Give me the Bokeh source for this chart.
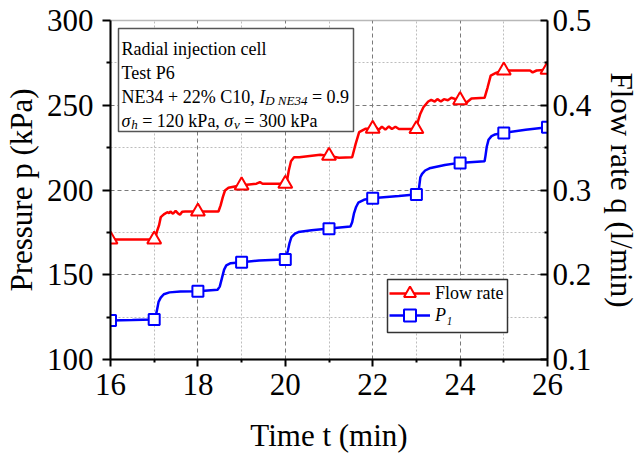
import math
from bokeh.plotting import figure
from bokeh.models import (Range1d, LinearAxis, FixedTicker, Label, BoxAnnotation,
                          Legend, LegendItem)
from bokeh.embed import file_html
from bokeh.resources import INLINE

# ---------------- data ----------------
t_p1 = [16.00, 16.50, 16.98, 17.03, 17.07, 17.10, 17.15, 17.22, 17.35, 17.60, 18.00,
        18.45, 18.50, 18.55, 18.60, 18.65, 18.75, 19.00, 19.40, 19.95, 20.02, 20.06,
        20.10, 20.14, 20.22, 20.30, 20.60, 20.95, 21.49, 21.53, 21.57, 21.62, 21.67,
        21.80, 21.97, 22.60, 22.97, 23.05, 23.09, 23.13, 23.20, 23.30, 23.65, 23.97,
        24.56, 24.58, 24.61, 24.65, 24.72, 24.80, 24.97, 25.50, 26.00]
p1 = [123.0, 123.3, 123.6, 125.0, 130.0, 134.0, 136.5, 138.5, 139.6, 140.1, 140.3,
      141.2, 143.0, 148.0, 153.0, 155.5, 156.8, 157.4, 158.4, 159.0, 160.5, 164.3,
      169.0, 172.2, 174.3, 175.2, 176.3, 177.1, 178.5, 181.0, 186.0, 190.0, 192.5,
      194.2, 195.2, 196.5, 197.3, 199.0, 207.5, 209.5, 211.5, 212.8, 214.8, 216.0,
      217.0, 220.0, 225.5, 229.6, 231.8, 232.8, 233.7, 235.5, 237.0]

t_q = [16.00, 16.85, 17.00, 17.03, 17.07, 17.11, 17.15, 17.22, 17.30, 17.34, 17.37,
       17.43, 17.49, 17.54, 17.59, 17.64, 17.71, 18.00, 18.47, 18.52, 18.57, 18.62,
       18.70, 18.96, 19.34, 19.42, 19.48, 20.00, 20.04, 20.08, 20.13, 20.20, 20.32,
       20.80, 21.00, 21.23, 21.53, 21.61, 21.69, 21.83, 21.97, 22.06, 22.14, 22.21,
       22.29, 22.37, 22.44, 22.52, 22.60, 22.97, 23.03, 23.09, 23.16, 23.27, 23.34,
       23.42, 23.48, 23.56, 23.63, 23.72, 23.80, 23.97, 24.06, 24.15, 24.26, 24.56,
       24.63, 24.70, 24.82, 24.97, 25.60, 25.66, 25.75, 26.00]
q_flow = [0.2416, 0.2416, 0.2416, 0.2444, 0.2522, 0.2582, 0.2680, 0.2712, 0.2738, 0.2726,
          0.2746, 0.2720, 0.2754, 0.2726, 0.2708, 0.2744, 0.2746, 0.2746, 0.2746, 0.2818,
          0.2916, 0.2994, 0.3026, 0.3054, 0.3074, 0.3092, 0.3074, 0.3074, 0.3112, 0.3230,
          0.3340, 0.3386, 0.3386, 0.3416, 0.3400, 0.3380, 0.3386, 0.3544, 0.3682, 0.3722,
          0.3722, 0.3748, 0.3710, 0.3748, 0.3712, 0.3750, 0.3720, 0.3746, 0.3720, 0.3720,
          0.3800, 0.3900, 0.3976, 0.4044, 0.4064, 0.4044, 0.4072, 0.4044, 0.4072, 0.4060,
          0.4088, 0.4060, 0.4066, 0.4032, 0.4080, 0.4088, 0.4212, 0.4350, 0.4382, 0.4410,
          0.4410, 0.4388, 0.4410, 0.4418]

t_marks = [16, 17, 18, 19, 20, 21, 22, 23, 24, 25, 26]
p1_marks = [123.0, 123.6, 140.3, 157.4, 159.0, 177.1, 195.2, 197.3, 216.0, 233.7, 237.0]
q_marks = [0.2416, 0.2416, 0.2746, 0.3054, 0.3074, 0.3404, 0.3722, 0.3720, 0.4060, 0.4410, 0.4418]

x_ticks = [16, 18, 20, 22, 24, 26]
x_minor = [17, 19, 21, 23, 25]
p_ticks = [100, 150, 200, 250, 300]
p_minor = [125, 175, 225, 275]
q_ticks = [0.1, 0.2, 0.3, 0.4, 0.5]
q_minor = [0.15, 0.25, 0.35, 0.45]

x_title = "Time t (min)"
p_title = "Pressure p (kPa)"
q_title = "Flow rate q (l/min)"

# ---------------- figure ----------------
W, H = 642, 463
FL, FT, FR, FB = 110, 20, 92, 104
FONT = "Liberation Serif"
TICK_SIZE = 31
TITLE_SIZE = 31

p = figure(width=W, height=H, output_backend="svg", toolbar_location=None,
           x_range=Range1d(16, 26), y_range=Range1d(100, 300),
           min_border_left=FL, min_border_right=FR, min_border_top=FT,
           min_border_bottom=FB, background_fill_color="white",
           border_fill_color="white")
p.extra_y_ranges = {"q": Range1d(0.1, 0.5)}
p.outline_line_color = "#b8b8b8"
p.outline_line_width = 1.5

xt = FixedTicker(ticks=x_ticks, minor_ticks=x_minor)
pt = FixedTicker(ticks=p_ticks, minor_ticks=p_minor)
qt = FixedTicker(ticks=q_ticks, minor_ticks=q_minor)

def style_axis(ax, tin, tout, standoff, title, title_standoff):
    ax.axis_line_color = "black"
    ax.axis_line_width = 2
    ax.major_tick_line_color = "black"
    ax.major_tick_line_width = 2
    ax.minor_tick_line_color = "black"
    ax.minor_tick_line_width = 2
    ax.major_tick_in = tin
    ax.major_tick_out = tout
    ax.minor_tick_in = int(tin * 0.55)
    ax.minor_tick_out = int(tout * 0.55)
    ax.major_label_standoff = standoff
    ax.major_label_text_font = FONT
    ax.major_label_text_font_size = f"{TICK_SIZE}px"
    ax.major_label_text_color = "black"
    ax.axis_label = title
    ax.axis_label_standoff = title_standoff
    ax.axis_label_text_font = FONT
    ax.axis_label_text_font_size = f"{TITLE_SIZE}px"
    ax.axis_label_text_font_style = "normal"
    ax.axis_label_text_color = "black"

p.xaxis.ticker = xt
p.yaxis.ticker = pt
style_axis(p.xaxis[0], 0, 7, 7, x_title, 20)
style_axis(p.yaxis[0], 0, 8, 9, p_title, 5)

rax = LinearAxis(y_range_name="q", ticker=qt)
style_axis(rax, 7, 0, 5, q_title, 10)
p.add_layout(rax, "right")

for g in (p.xgrid[0], p.ygrid[0]):
    g.grid_line_color = "#7a7a7a"
    g.grid_line_dash = "4 3"
    g.grid_line_width = 1
    g.minor_grid_line_color = "#bdbdbd"
    g.minor_grid_line_dash = "2 2"
    g.minor_grid_line_width = 1
p.xgrid.ticker = xt
p.ygrid.ticker = pt

# ---------------- data glyphs ----------------
red_line = p.line(t_q, q_flow, y_range_name="q", line_color="#ff0000", line_width=2.5)
red_pts = p.scatter(t_marks, q_marks, y_range_name="q", marker="triangle", size=14,
                    fill_color="white", line_color="#ff0000", line_width=2)
blue_line = p.line(t_p1, p1, line_color="#0000ff", line_width=2.5)
blue_pts = p.scatter(t_marks, p1_marks, marker="square", size=11,
                     fill_color="white", line_color="#0000ff", line_width=2)

# ---------------- text helpers (mixed upright / italic runs) ----------------
REG = {' ': 250, '%': 833, '(': 333, ')': 333, '+': 564, ',': 250, '.': 250, '/': 278,
       '=': 564, 'C': 667, 'D': 722, 'E': 611, 'F': 556, 'I': 333, 'N': 722, 'P': 556,
       'R': 667, 'T': 611, 'a': 444, 'c': 444, 'd': 500, 'e': 444, 'i': 278, 'j': 278,
       'k': 500, 'l': 278, 'm': 778, 'n': 500, 'o': 500, 'p': 500, 'q': 500, 'r': 333,
       's': 389, 't': 278, 'u': 500, 'w': 722}
ITA = {' ': 250, 'D': 722, 'E': 611, 'I': 333, 'N': 667, 'P': 611, 'h': 500, 'p': 500,
       'q': 500, 't': 278, 'v': 444, 'σ': 540}

def tw(s, size, italic):
    tab = ITA if italic else REG
    return sum(tab.get(ch, 500) for ch in s) * size / 1000.0

def runs_label(runs, x, y):
    pos = 0.0
    for t, s, it, sh in runs:
        lead = len(t) - len(t.lstrip(" "))
        pos_t = pos + tw(" " * lead, s, it)
        txt = t.strip(" ")
        if txt:
            p.add_layout(Label(x=x + pos_t, y=y - sh, x_units="screen", y_units="screen",
                               text=txt, text_font=FONT, text_font_size=f"{s}px",
                               text_font_style="italic" if it else "normal",
                               text_baseline="alphabetic", text_align="left",
                               text_color="black"))
        pos += tw(t, s, it)

# ---------------- info box ----------------
p.add_layout(BoxAnnotation(left=8, right=243, top=331, bottom=228,
                           left_units="screen", right_units="screen",
                           top_units="screen", bottom_units="screen",
                           fill_color="white", fill_alpha=1.0,
                           line_color="#555555", line_alpha=1.0, line_width=1.5))
S = 18
SS = 13
runs_label([("Radial injection cell", S, False, 0)], 11, 311)
runs_label([("Test P6", S, False, 0)], 11, 287)
runs_label([("NE34 + 22% C10, ", S, False, 0), ("I", S, True, 0),
            ("D NE34", SS, True, 4), (" = 0.9", S, False, 0)], 11, 263)
runs_label([("σ", S, True, 0), ("h", SS, True, 4), (" = 120 kPa, ", S, False, 0),
            ("σ", S, True, 0), ("v", SS, True, 4), (" = 300 kPa", S, False, 0)], 11, 239)

# ---------------- legend ----------------
p.add_layout(BoxAnnotation(left=277, right=397, top=80, bottom=27,
                           left_units="screen", right_units="screen",
                           top_units="screen", bottom_units="screen",
                           fill_color="white", fill_alpha=1.0,
                           line_color="#333333", line_alpha=1.0, line_width=1.5))

def make_legend(label, rends, y, style):
    lg = Legend(items=[LegendItem(label=label, renderers=rends)], location=(279, y),
                border_line_alpha=0, background_fill_alpha=0, padding=0, margin=0,
                spacing=0, glyph_width=41, glyph_height=30, label_height=30,
                label_standoff=5, label_text_font=FONT, label_text_font_size="18px",
                label_text_font_style=style, label_text_color="black")
    p.add_layout(lg)

make_legend("Flow rate", [red_line, red_pts], 51, "normal")
make_legend("P₁", [blue_line, blue_pts], 29, "italic")

open("out.html", "w").write(file_html(p, INLINE))
